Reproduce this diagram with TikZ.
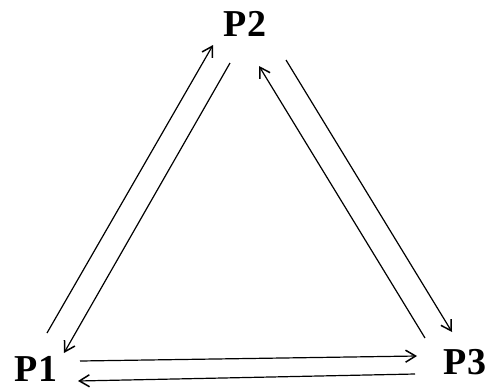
\documentclass[tikz,border=0pt]{standalone}
\usepackage{fontspec}
\setmainfont{Liberation Serif}
\usetikzlibrary{arrows.meta}
\begin{document}
\begin{tikzpicture}[x=1pt,y=-1pt,
  lbl/.style={font=\fontsize{38}{40}\selectfont\bfseries, inner sep=0pt},
  conn/.style={line width=1.2pt, -{Straight Barb[length=10pt,width=12pt,line width=1.5pt]}}]
\useasboundingbox (0,0) rectangle (495,389);
\node[lbl] (P1) at (36,369) {P1};
\node[lbl] (P2) at (245,24) {P2};
\node[lbl] (P3) at (465,362) {P3};
% P1 <-> P2
\coordinate (a1) at (47,333);  \coordinate (a2) at (213,45);
\coordinate (b1) at (230,63);  \coordinate (b2) at (64,353);
% P2 <-> P3
\coordinate (c1) at (286,60);  \coordinate (c2) at (452,332);
\coordinate (d1) at (425,338); \coordinate (d2) at (259,66);
% P1 <-> P3
\coordinate (e1) at (80,361);  \coordinate (e2) at (417,356);
\coordinate (f1) at (415,374); \coordinate (f2) at (78,381);
\draw[conn] (a1) -- (a2);
\draw[conn] (b1) -- (b2);
\draw[conn] (c1) -- (c2);
\draw[conn] (d1) -- (d2);
\draw[conn] (e1) -- (e2);
\draw[conn] (f1) -- (f2);
\end{tikzpicture}
\end{document}
